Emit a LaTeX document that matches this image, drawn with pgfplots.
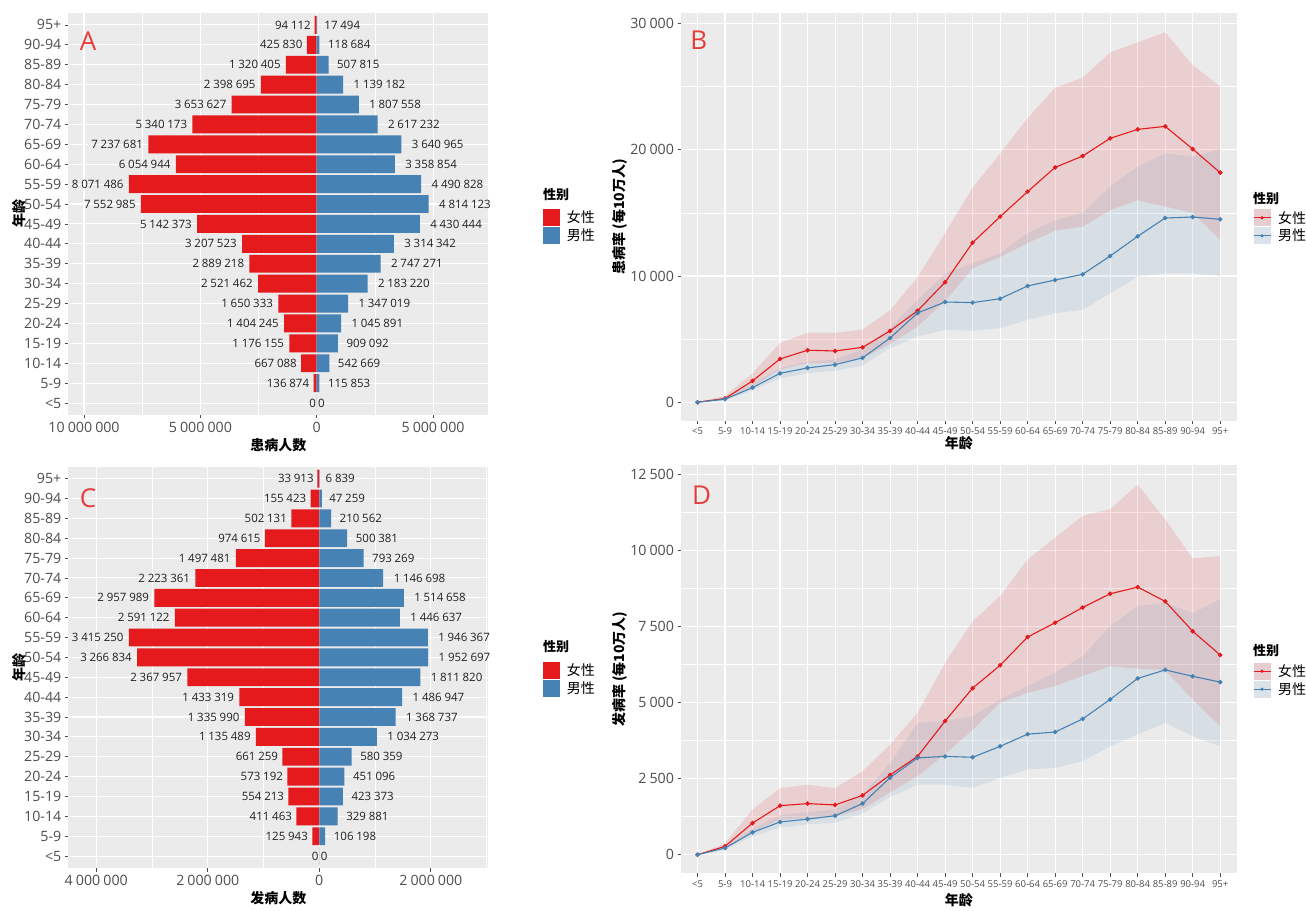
\documentclass[border=0pt]{standalone}
\usepackage{fontspec}
\setmainfont{Open Sans}
\newfontfamily\cjk{Noto Sans CJK SC}
\usepackage{pgfplots}
\pgfplotsset{compat=1.18}
\usepackage{pgfplotstable}
\usepgfplotslibrary{fillbetween}
\usepackage{siunitx}
\sisetup{mode=text, group-separator={\hspace{0.24em}}, group-minimum-digits=4}

\definecolor{ggbg}{HTML}{EBEBEB}
\definecolor{cred}{HTML}{E41A1C}
\definecolor{cblue}{HTML}{4682B4}
\definecolor{ctick}{HTML}{4D4D4D}
\definecolor{cletter}{HTML}{E63C3C}
\definecolor{keyred}{HTML}{E8CDD0}
\definecolor{keyblue}{HTML}{DCE2EA}

\newcommand\gs{\hspace{0.22em}}
\newcommand\tickfont{\fontsize{14.2}{16}\selectfont}
\newcommand\labfont{\fontsize{11.5}{13}\selectfont}
\newcommand\flab{\edef\tmpn{\pgfplotspointmeta}\sbox0{\expandafter\num\expandafter{\tmpn}}\usebox0\kern0.1\wd0}
\newcommand\mlab{\edef\tmpn{\pgfplotspointmeta}\sbox0{\expandafter\num\expandafter{\tmpn}}\kern0.2\wd0\usebox0}

\pgfplotstableread{
idx f m
0 0 0
1 136874 115853
2 667088 542669
3 1176155 909092
4 1404245 1045891
5 1650333 1347019
6 2521462 2183220
7 2889218 2747271
8 3207523 3314342
9 5142373 4430444
10 7552985 4814123
11 8071486 4490828
12 6054944 3358854
13 7237681 3640965
14 5340173 2617232
15 3653627 1807558
16 2398695 1139182
17 1320405 507815
18 425830 118684
19 94112 17494
}\tabA

\pgfplotstableread{
idx f m
0 0 0
1 125943 106198
2 411463 329881
3 554213 423373
4 573192 451096
5 661259 580359
6 1135489 1034273
7 1335990 1368737
8 1433319 1486947
9 2367957 1811820
10 3266834 1952697
11 3415250 1946367
12 2591122 1446637
13 2957989 1514658
14 2223361 1146698
15 1497481 793269
16 974615 500381
17 502131 210562
18 155423 47259
19 33913 6839
}\tabC

\pgfplotstableread{
idx f flo fhi m mlo mhi
0 0 0 0 0 0 0
1 300 200 500 240 150 350
2 1690 1250 2300 1160 950 1450
3 3430 2600 4700 2290 1900 2700
4 4120 3100 5500 2720 2300 3200
5 4060 3100 5500 2980 2500 3400
6 4350 3500 5750 3510 2900 4200
7 5650 4600 7300 5090 4300 5900
8 7250 6000 9900 7070 5200 8100
9 9500 8000 13400 7940 5730 10200
10 12640 10600 17000 7890 5670 11000
11 14700 11500 19700 8200 5860 11800
12 16680 12600 22500 9210 6520 13400
13 18600 13600 24900 9680 7050 14400
14 19500 13900 25700 10130 7320 15000
15 20900 15200 27700 11580 8630 17100
16 21610 16000 28500 13140 9940 18650
17 21850 15500 29300 14590 10200 19700
18 20050 15000 26700 14670 10200 19450
19 18180 12850 25000 14490 10000 20050
}\tabB

\pgfplotstableread{
idx f flo fhi m mlo mhi
0 0 0 0 0 0 0
1 275 200 380 220 160 280
2 1040 750 1480 735 600 850
3 1610 1150 2190 1075 900 1300
4 1680 1200 2300 1170 1000 1400
5 1635 1250 2190 1280 1050 1500
6 1950 1500 2740 1680 1350 2000
7 2620 2050 3620 2530 1900 3000
8 3230 2580 4660 3180 2300 4330
9 4390 3300 6300 3230 2300 4390
10 5470 4100 7670 3200 2190 4550
11 6220 4990 8500 3560 2520 5100
12 7150 5320 9700 3960 2800 5540
13 7620 5540 10420 4030 2850 5980
14 8120 5870 11130 4460 3070 6520
15 8570 6190 11350 5100 3560 7510
16 8790 6110 12150 5790 3950 8170
17 8320 6060 11020 6070 4330 8280
18 7340 5100 9730 5860 3890 7930
19 6560 4220 9810 5670 3560 8390
}\tabD

\pgfplotsset{
  ggbase/.style={
    scale only axis,
    clip mode=individual,
    axis background/.style={fill=ggbg},
    axis line style={draw=none},
    grid=both,
    major grid style={white, line width=1.1pt},
    minor grid style={white, line width=0.55pt},
    tick align=outside,
    major tick length=3.5pt,
    minor tick length=0pt,
    xtick pos=bottom, ytick pos=left,
    tick style={ctick, line width=0.8pt},
    ticklabel style={font=\tickfont, text=ctick},
    scaled x ticks=false, scaled y ticks=false,
    label style={font=\fontsize{14}{16}\selectfont\cjk\bfseries, text=black},
    legend style={draw=none, fill=none, inner sep=0pt, outer sep=0pt, anchor=north west,
      row sep=1pt, font=\fontsize{14}{16}\selectfont\cjk,
      nodes={inner sep=0pt},
      /tikz/every odd column/.append style={column sep=7pt}},
    legend cell align=left,
  },
  pyr/.style={
    ggbase,
    width=420pt,
    ymin=-0.6, ymax=19.6,
    ytick={0,...,19},
    yticklabels={<5,5-9,10-14,15-19,20-24,25-29,30-34,35-39,40-44,45-49,50-54,55-59,60-64,65-69,70-74,75-79,80-84,85-89,90-94,95+},
    ylabel={年龄},
    y label style={at={(axis description cs:-0.1174,0.5)}, anchor=center},
  },
  rate/.style={
    ggbase,
    width=555.7pt,
    xmin=-0.6, xmax=19.6,
    xtick={0,...,19},
    xticklabels={<5,5-9,10-14,15-19,20-24,25-29,30-34,35-39,40-44,45-49,50-54,55-59,60-64,65-69,70-74,75-79,80-84,85-89,90-94,95+},
    x tick label style={font=\fontsize{9.5}{11}\selectfont},
    xlabel={年龄},
    y label style={at={(axis description cs:-0.1098,0.5)}, anchor=center},
  },
  barkey/.style={legend image code/.code={\path[fill=#1, draw=none] (0pt,-8.5pt) rectangle (17pt,8.5pt);}},
  linekey/.style 2 args={legend image code/.code={
      \path[fill=#2, draw=none] (0pt,-8.5pt) rectangle (17pt,8.5pt);
      \path[draw=#1, line width=1.1pt, fill=none] (0pt,0pt) -- (17pt,0pt);
      \path[fill=#1, draw=none] (8.5pt,0pt) circle (1.8pt);}},
}

\begin{document}
\begin{tikzpicture}

% ---------------- Panel A ----------------
\begin{axis}[pyr,
  at={(68.3pt,495pt)}, anchor=south west, height=402pt,
  xmin=-10675000, xmax=7374000,
  xtick={-10000000,-5000000,0,5000000},
  xticklabels={10\gs000\gs000,5\gs000\gs000,0,5\gs000\gs000},
  minor xtick={-7500000,-2500000,2500000},
  xlabel={患病人数},
  x label style={at={(axis description cs:0.5,-0.0746)}, anchor=center},
  legend style={at={(1.1302,0.5117)}},
]
\addplot[forget plot, xbar, bar width=0.9, bar shift=0pt, fill=cred, draw=none,
  point meta=explicit symbolic, nodes near coords=\flab,
  nodes near coords style={anchor=east, inner sep=0pt, font=\labfont, text=black!88}]
  table[x expr=-\thisrow{f}, y=idx, meta=f]{\tabA};
\addplot[forget plot, xbar, bar width=0.9, bar shift=0pt, fill=cblue, draw=none,
  point meta=explicit symbolic, nodes near coords=\mlab,
  nodes near coords style={anchor=west, inner sep=0pt, font=\labfont, text=black!88}]
  table[x=m, y=idx, meta=m]{\tabA};
\addlegendimage{barkey=cred}\addlegendentry{女性}
\addlegendimage{barkey=cblue}\addlegendentry{男性}
\node[anchor=west, inner sep=0pt, font=\fontsize{13}{15}\selectfont\cjk\bfseries] at (rel axis cs:1.1302,0.5473) {性别};
\node[text=cletter, font=\fontsize{26}{26}\selectfont, inner sep=0pt] at (rel axis cs:0.047,0.930) {A};
\end{axis}

% ---------------- Panel C ----------------
\begin{axis}[pyr,
  at={(68.3pt,42pt)}, anchor=south west, height=401.3pt,
  xmin=-4502000, xmax=3031000,
  xtick={-4000000,-2000000,0,2000000},
  xticklabels={4\gs000\gs000,2\gs000\gs000,0,2\gs000\gs000},
  minor xtick={-3000000,-1000000,1000000,3000000},
  xlabel={发病人数},
  x label style={at={(axis description cs:0.5,-0.0748)}, anchor=center},
  legend style={at={(1.1302,0.514)}},
]
\addplot[forget plot, xbar, bar width=0.9, bar shift=0pt, fill=cred, draw=none,
  point meta=explicit symbolic, nodes near coords=\flab,
  nodes near coords style={anchor=east, inner sep=0pt, font=\labfont, text=black!88}]
  table[x expr=-\thisrow{f}, y=idx, meta=f]{\tabC};
\addplot[forget plot, xbar, bar width=0.9, bar shift=0pt, fill=cblue, draw=none,
  point meta=explicit symbolic, nodes near coords=\mlab,
  nodes near coords style={anchor=west, inner sep=0pt, font=\labfont, text=black!88}]
  table[x=m, y=idx, meta=m]{\tabC};
\addlegendimage{barkey=cred}\addlegendentry{女性}
\addlegendimage{barkey=cblue}\addlegendentry{男性}
\node[anchor=west, inner sep=0pt, font=\fontsize{13}{15}\selectfont\cjk\bfseries] at (rel axis cs:1.1302,0.5515) {性别};
\node[text=cletter, font=\fontsize{26}{26}\selectfont, inner sep=0pt] at (rel axis cs:0.047,0.922) {C};
\end{axis}

% ---------------- Panel B ----------------
\begin{axis}[rate,
  at={(681pt,489.3pt)}, anchor=south west, height=408pt,
  ymin=-1460, ymax=30850,
  ytick={0,10000,20000,30000},
  yticklabels={0,10\gs000,20\gs000,30\gs000},
  minor ytick={5000,15000,25000},
  ylabel={患病率 (每10万人)},
  x label style={at={(axis description cs:0.5,-0.0547)}, anchor=center},
  legend style={at={(1.0293,0.518)}},
]
\addplot[draw=none, name path=bfh, forget plot] table[x=idx,y=fhi]{\tabB};
\addplot[draw=none, name path=bfl, forget plot] table[x=idx,y=flo]{\tabB};
\addplot[fill=cred, fill opacity=0.13, draw=none, forget plot] fill between[of=bfh and bfl];
\addplot[draw=none, name path=bmh, forget plot] table[x=idx,y=mhi]{\tabB};
\addplot[draw=none, name path=bml, forget plot] table[x=idx,y=mlo]{\tabB};
\addplot[fill=cblue, fill opacity=0.11, draw=none, forget plot] fill between[of=bmh and bml];
\addplot[cred, line width=1.1pt, mark=*, mark size=1.7pt, forget plot] table[x=idx,y=f]{\tabB};
\addplot[cblue, line width=1.1pt, mark=*, mark size=1.7pt, forget plot] table[x=idx,y=m]{\tabB};
\addlegendimage{linekey={cred}{keyred}}\addlegendentry{女性}
\addlegendimage{linekey={cblue}{keyblue}}\addlegendentry{男性}
\node[anchor=west, inner sep=0pt, font=\fontsize{13}{15}\selectfont\cjk\bfseries] at (rel axis cs:1.0293,0.545) {性别};
\node[text=cletter, font=\fontsize{26}{26}\selectfont, inner sep=0pt] at (rel axis cs:0.032,0.933) {B};
\end{axis}

% ---------------- Panel D ----------------
\begin{axis}[rate,
  at={(681pt,36.7pt)}, anchor=south west, height=408.3pt,
  ymin=-610, ymax=12800,
  ytick={0,2500,5000,7500,10000,12500},
  yticklabels={0,2\gs500,5\gs000,7\gs500,10\gs000,12\gs500},
  minor ytick={1250,3750,6250,8750,11250},
  ylabel={发病率 (每10万人)},
  x label style={at={(axis description cs:0.5,-0.0654)}, anchor=center},
  legend style={at={(1.0293,0.5158)}},
]
\addplot[draw=none, name path=dfh, forget plot] table[x=idx,y=fhi]{\tabD};
\addplot[draw=none, name path=dfl, forget plot] table[x=idx,y=flo]{\tabD};
\addplot[fill=cred, fill opacity=0.13, draw=none, forget plot] fill between[of=dfh and dfl];
\addplot[draw=none, name path=dmh, forget plot] table[x=idx,y=mhi]{\tabD};
\addplot[draw=none, name path=dml, forget plot] table[x=idx,y=mlo]{\tabD};
\addplot[fill=cblue, fill opacity=0.11, draw=none, forget plot] fill between[of=dmh and dml];
\addplot[cred, line width=1.1pt, mark=*, mark size=1.7pt, forget plot] table[x=idx,y=f]{\tabD};
\addplot[cblue, line width=1.1pt, mark=*, mark size=1.7pt, forget plot] table[x=idx,y=m]{\tabD};
\addlegendimage{linekey={cred}{keyred}}\addlegendentry{女性}
\addlegendimage{linekey={cblue}{keyblue}}\addlegendentry{男性}
\node[anchor=west, inner sep=0pt, font=\fontsize{13}{15}\selectfont\cjk\bfseries] at (rel axis cs:1.0293,0.5452) {性别};
\node[text=cletter, font=\fontsize{26}{26}\selectfont, inner sep=0pt] at (rel axis cs:0.037,0.927) {D};
\end{axis}

\pgfresetboundingbox
\path[use as bounding box] (0,0) rectangle (1306pt,910pt);
\end{tikzpicture}
\end{document}
